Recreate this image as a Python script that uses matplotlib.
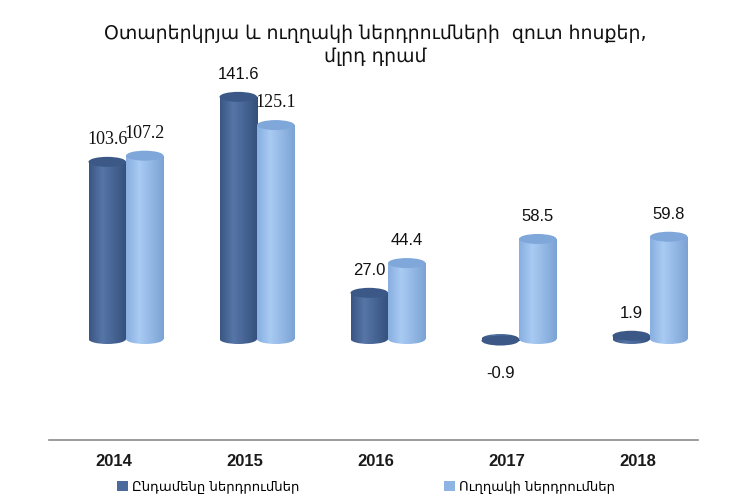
import numpy as np
import matplotlib
matplotlib.use('Agg')
import matplotlib.pyplot as plt
from matplotlib.patches import Ellipse, Rectangle, Patch
from matplotlib.colors import to_rgb

years = ['2014', '2015', '2016', '2017', '2018']
total = [103.6, 141.6, 27.0, -0.9, 1.9]
direct = [107.2, 125.1, 44.4, 58.5, 59.8]
series_names = ['Ընդամենը ներդրումներ', 'Ուղղակի ներդրումներ']
title_text = 'Օտարերկրյա և ուղղակի ներդրումների  զուտ հոսքեր,\nմլրդ դրամ'

ARM = ['DejaVu Sans']
PX = 1.71          # pixels per data unit (vertical)
GX = 131.0         # pixels per category

fig = plt.figure(figsize=(7.51, 5.0), dpi=100)
fig.patch.set_facecolor('white')
ax = fig.add_axes([0, 0, 1, 1])
ax.axis('off')
xlim = (-126 / GX, (751 - 126) / GX)
ylim = (-(500 - 339) / PX, 339 / PX)

x = np.arange(len(years))
w = 37.5 / GX
eh = 10 / PX

bars_t = ax.bar(x - w / 2, total, w, color='none', edgecolor='none')
bars_d = ax.bar(x + w / 2, direct, w, color='none', edgecolor='none')


def gradient(cl, ch, cr, n=64, pos=0.35):
    cl, ch, cr = map(np.array, map(to_rgb, (cl, ch, cr)))
    t = np.linspace(0, 1, n)
    out = np.zeros((n, 3))
    for i, tt in enumerate(t):
        if tt <= pos:
            f = tt / pos
            out[i] = cl * (1 - f) + ch * f
        else:
            f = (tt - pos) / (1 - pos)
            out[i] = ch * (1 - f) + cr * f
    return out[None, :, :]


styles = {
    'dark': dict(grad=gradient('#3a5683', '#5676a8', '#34507c'), top='#3b5886'),
    'light': dict(grad=gradient('#88afe0', '#a8cbf3', '#7ca3d5'), top='#7fa7d9'),
}


def cylinder(rect, st, z):
    x0 = rect.get_x()
    wd = rect.get_width()
    y0 = rect.get_y()
    h = rect.get_height()
    ylo, yhi = min(y0, y0 + h), max(y0, y0 + h)
    top = y0 + h
    cx = x0 + wd / 2
    be = Ellipse((cx, 0), wd, eh, facecolor='none', edgecolor='none')
    ax.add_patch(be)
    im = ax.imshow(st['grad'], extent=[x0, x0 + wd, -eh, eh], aspect='auto',
                   origin='lower', zorder=z, interpolation='bilinear')
    im.set_clip_path(be)
    body = Rectangle((x0, ylo), wd, yhi - ylo, facecolor='none', edgecolor='none')
    ax.add_patch(body)
    im2 = ax.imshow(st['grad'], extent=[x0, x0 + wd, ylo, yhi + 1e-6], aspect='auto',
                    origin='lower', zorder=z, interpolation='bilinear')
    im2.set_clip_path(body)
    te = Ellipse((cx, top), wd, eh, facecolor=st['top'], edgecolor='none', zorder=z + 0.5)
    ax.add_patch(te)


for r in bars_t:
    cylinder(r, styles['dark'], 2)
for r in bars_d:
    cylinder(r, styles['light'], 3)

# value labels
serif_t = [True, False, False, False, False]
serif_d = [True, True, False, False, False]
for r, v, s in zip(bars_t, total, serif_t):
    cx = r.get_x() + r.get_width() / 2
    off = 16 if v >= 0 else -24
    ax.annotate(f'{v:.1f}', (cx, v), xytext=(0, off), textcoords='offset points',
                ha='center', va='center', zorder=6,
                fontsize=13 if s else 12,
                family='Liberation Serif' if s else 'Liberation Sans', color='#111111')
for r, v, s in zip(bars_d, direct, serif_d):
    cx = r.get_x() + r.get_width() / 2
    ax.annotate(f'{v:.1f}', (cx, v), xytext=(0, 16), textcoords='offset points',
                ha='center', va='center', zorder=6,
                fontsize=13 if s else 12,
                family='Liberation Serif' if s else 'Liberation Sans', color='#111111')

# floor line
yl = -(440 - 339) / PX
ax.plot([(49 - 126) / GX, (698 - 126) / GX], [yl, yl], color='#8a8a8a', lw=1.2, zorder=1)

# year labels
yy = -(462 - 339) / PX
for xi, yr in zip(x, years):
    ax.text(xi - 0.09, yy, yr, ha='center', va='center', fontsize=12,
            fontweight='bold', family='Liberation Sans', color='#1a1a1a')

# title
fig.text(0.5, 1 - 45 / 500, title_text, ha='center', va='center', fontsize=13.6,
         family=ARM, linespacing=1.3, color='#111111')

# legend
handles = [Patch(facecolor='#4a6b9c', edgecolor='none'),
           Patch(facecolor='#8db4e2', edgecolor='none')]
fig.legend(handles, series_names, loc='center left', bbox_to_anchor=(117 / 751, 1 - 487 / 500),
           ncol=2, frameon=False, handlelength=0.8, handleheight=0.8,
           handletextpad=0.3, columnspacing=11.0, borderaxespad=0, borderpad=0,
           prop=dict(family=ARM, size=9.5))

ax.set_xlim(*xlim)
ax.set_ylim(*ylim)
fig.savefig('out.png', dpi=100)
